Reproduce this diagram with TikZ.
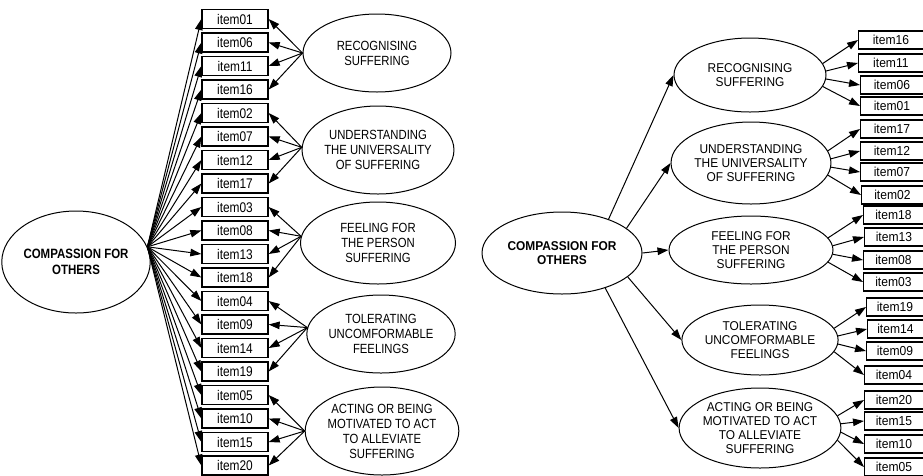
\documentclass[tikz,border=0pt]{standalone}
\usepackage{fontspec}
\setmainfont{Liberation Sans}
\newfontfamily\lfont[FakeStretch=0.85]{Liberation Sans}
\newfontfamily\rfont[FakeStretch=0.93]{Liberation Sans}
\usetikzlibrary{arrows.meta,shapes.geometric}
\tikzset{
  lat/.style={ellipse, draw, line width=1pt, inner sep=0pt, align=center},
  ltxt/.style={font=\lfont\fontsize{13.3}{15}\selectfont},
  rtxt/.style={font=\rfont\fontsize{12.8}{13.8}\selectfont},
  lbold/.style={font=\lfont\bfseries\fontsize{13.5}{16}\selectfont},
  rbold/.style={font=\rfont\bfseries\fontsize{12.8}{14}\selectfont},
  ibox/.style={draw, line width=1.3pt, inner sep=0pt},
  lbox/.style={ibox, minimum width=66pt, minimum height=19pt, font=\lfont\fontsize{14}{15}\selectfont},
  rbox/.style={ibox, minimum height=18pt, font=\rfont\fontsize{13}{14}\selectfont},
  arr/.style={-{Triangle[length=11pt,width=7.5pt]}, line width=1pt}
}
\begin{document}
\begin{tikzpicture}[x=1pt,y=-1pt]
\useasboundingbox (0,0) rectangle (923,475);
\path[fill=white] (0,0) rectangle (923,475);

% ---------- left model ----------
\node[lat, lbold, minimum width=136pt, minimum height=102pt] (LM) at (76,262) {COMPASSION FOR\\OTHERS};
\node[lat, ltxt, minimum width=148pt, minimum height=78pt] (LF1) at (377,53) {RECOGNISING\\SUFFERING};
\node[lat, ltxt, minimum width=150pt, minimum height=88pt] (LF2) at (378,150) {UNDERSTANDING\\THE UNIVERSALITY\\OF SUFFERING};
\node[lat, ltxt, minimum width=155pt, minimum height=82pt] (LF3) at (378,243) {FEELING FOR\\THE PERSON\\SUFFERING};
\node[lat, ltxt, minimum width=142pt, minimum height=78pt] (LF4) at (381,334) {TOLERATING\\UNCOMFORMABLE\\FEELINGS};
\node[lat, ltxt, minimum width=150pt, minimum height=88pt] (LF5) at (382,431) {ACTING OR BEING\\MOTIVATED TO ACT\\TO ALLEVIATE\\SUFFERING};

\foreach \n [count=\i from 0] in {01,06,11,16,02,07,12,17,03,08,13,18,04,09,14,19,05,10,15,20} {
  \node[lbox] (L\n) at (235, 19+23.5*\i) {item\n};
  \draw[arr] (LM.12) -- (L\n.west);
}
\foreach \f/\ang/\a/\b/\c/\d in {LF1/180/01/06/11/16, LF2/178.5/02/07/12/17, LF3/175.5/03/08/13/18, LF4/175/04/09/14/19, LF5/180/05/10/15/20} {
  \foreach \n in {\a,\b,\c,\d} {
    \draw[arr] (\f.\ang) -- (L\n.east);
  }
}

% ---------- right model ----------
\node[lat, rbold, minimum width=160pt, minimum height=82pt] (RM) at (562,253) {COMPASSION FOR\\OTHERS};
\node[lat, rtxt, minimum width=152pt, minimum height=74pt] (RF1) at (750,75) {RECOGNISING\\SUFFERING};
\node[lat, rtxt, minimum width=158pt, minimum height=82pt] (RF2) at (751,163) {UNDERSTANDING\\THE UNIVERSALITY\\OF SUFFERING};
\node[lat, rtxt, minimum width=164pt, minimum height=68pt] (RF3) at (751,250) {FEELING FOR\\THE PERSON\\SUFFERING};
\node[lat, rtxt, minimum width=156pt, minimum height=70pt] (RF4) at (760,340) {TOLERATING\\UNCOMFORMABLE\\FEELINGS};
\node[lat, rtxt, minimum width=156pt, minimum height=80pt] (RF5) at (760,428) {ACTING OR BEING\\MOTIVATED TO ACT\\TO ALLEVIATE\\SUFFERING};

\draw[arr] (RM.36) -- (RF1.west);
\draw[arr] (RM.21) -- (RF2.west);
\draw[arr] (RM.0) -- (RF3.west);
\draw[arr] (RM.-20) -- (RF4.west);
\draw[arr] (RM.-39) -- (RF5.west);

\foreach \n/\x/\y in {16/858/40, 11/858/63, 06/860/85, 01/860/106,
                      17/860/129, 12/860/151, 07/860/172, 02/861/195,
                      18/863/215, 13/864/237, 08/863/260, 03/863/282,
                      19/866/307, 14/867/329, 09/866/351, 04/864/375,
                      20/864/400, 15/864/421, 10/864/444, 05/864/467} {
  \node[rbox, anchor=west, minimum width={922.5pt-\x pt}] (R\n) at (\x,\y) {item\n};
}
\foreach \f/\a/\b/\c/\d in {RF1/16/11/06/01, RF2/17/12/07/02, RF3/18/13/08/03, RF4/19/14/09/04, RF5/20/15/10/05} {
  \draw[arr] (\f.9) -- (R\a.west);
  \draw[arr] (\f.3) -- (R\b.west);
  \draw[arr] (\f.-3) -- (R\c.west);
  \draw[arr] (\f.-9) -- (R\d.west);
}
\end{tikzpicture}
\end{document}
